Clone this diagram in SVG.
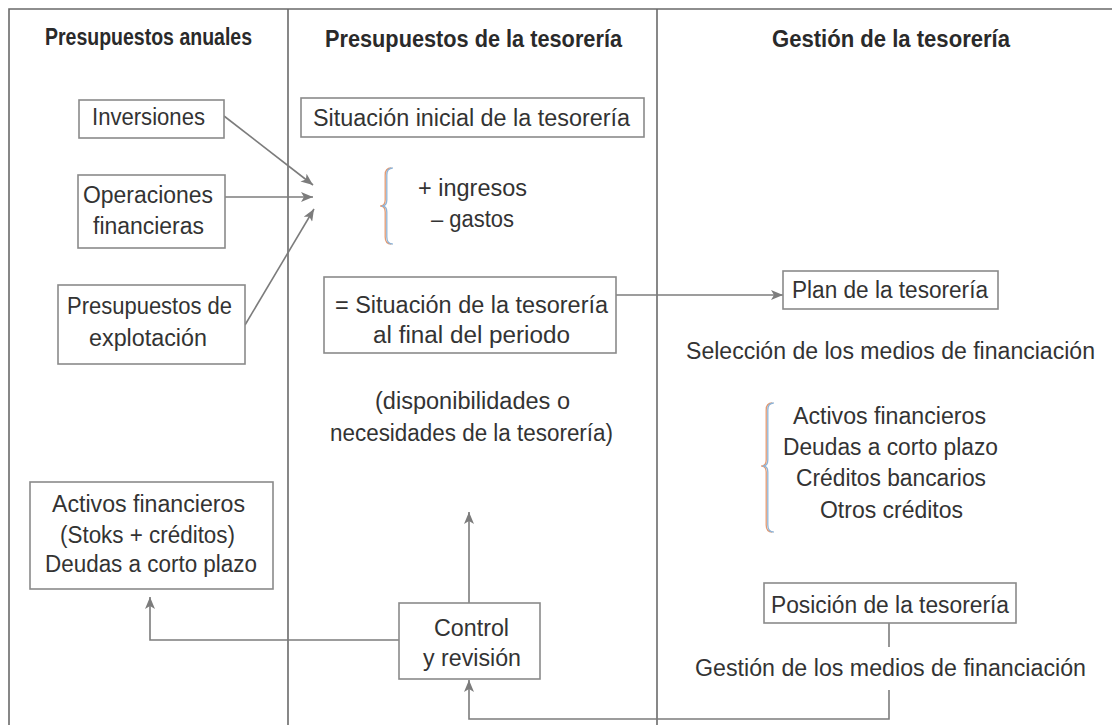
<svg xmlns="http://www.w3.org/2000/svg" width="1112" height="725" viewBox="0 0 1112 725">
<defs>
<style>
.frame{stroke:#6a6a6a;stroke-width:1.6;fill:none}
.box{fill:#fff;stroke:#8a8a8a;stroke-width:1.6}
.t{font-family:"Liberation Sans",Arial,sans-serif;font-size:23px;fill:#333}
.h{font-family:"Liberation Sans",Arial,sans-serif;font-size:23px;font-weight:bold;fill:#2a2a2a}
.c{stroke:#7c7c7c;stroke-width:1.6;fill:none}
.br{fill:none;stroke-width:1.3}
</style>
<marker id="ah" viewBox="0 0 12 10" refX="12" refY="5" markerWidth="13" markerHeight="10" markerUnits="userSpaceOnUse" orient="auto">
<path d="M0,0 L12,5 L0,10 L3,5 Z" fill="#7c7c7c"/>
</marker>
</defs>
<rect width="1112" height="725" fill="#fff"/>
<g id="frame">
<path class="frame" d="M9,725 L9,9 L1112,9"/>
<line class="frame" x1="288" y1="9" x2="288" y2="725"/>
<line class="frame" x1="657" y1="9" x2="657" y2="725"/>
</g>
<g id="headers">
<text class="h" x="45" y="45" textLength="207" lengthAdjust="spacingAndGlyphs">Presupuestos anuales</text>
<text class="h" x="325" y="47" textLength="297" lengthAdjust="spacingAndGlyphs">Presupuestos de la tesorería</text>
<text class="h" x="772" y="47" textLength="238" lengthAdjust="spacingAndGlyphs">Gestión de la tesorería</text>
</g>
<g id="connectors">
<line class="c" x1="224" y1="116" x2="313" y2="185" marker-end="url(#ah)"/>
<line class="c" x1="225" y1="197" x2="313" y2="197" marker-end="url(#ah)"/>
<line class="c" x1="245" y1="325" x2="314" y2="209" marker-end="url(#ah)"/>
<line class="c" x1="616" y1="295" x2="783" y2="295" marker-end="url(#ah)"/>
<line class="c" x1="469" y1="603" x2="469" y2="512" marker-end="url(#ah)"/>
<polyline class="c" points="399,640 150,640 150,597" marker-end="url(#ah)"/>
<line class="c" x1="889" y1="623" x2="889" y2="647"/>
<polyline class="c" points="889,690 889,719 469,719 469,680" marker-end="url(#ah)"/>
</g>
<g id="n-inversiones">
<rect class="box" x="79" y="100" width="145" height="38"/>
<text class="t" x="92" y="125" textLength="113" lengthAdjust="spacingAndGlyphs">Inversiones</text>
</g>
<g id="n-operaciones">
<rect class="box" x="78" y="175" width="147" height="73"/>
<text class="t" x="83" y="203" textLength="130" lengthAdjust="spacingAndGlyphs">Operaciones</text>
<text class="t" x="93" y="234" textLength="111" lengthAdjust="spacingAndGlyphs">financieras</text>
</g>
<g id="n-explotacion">
<rect class="box" x="58" y="285" width="187" height="79"/>
<text class="t" x="67" y="314" textLength="165" lengthAdjust="spacingAndGlyphs">Presupuestos de</text>
<text class="t" x="89" y="346" textLength="118" lengthAdjust="spacingAndGlyphs">explotación</text>
</g>
<g id="n-activos">
<rect class="box" x="30" y="482" width="243" height="107"/>
<text class="t" x="52" y="512" textLength="193" lengthAdjust="spacingAndGlyphs">Activos financieros</text>
<text class="t" x="60" y="543" textLength="175" lengthAdjust="spacingAndGlyphs">(Stoks + créditos)</text>
<text class="t" x="45" y="572" textLength="212" lengthAdjust="spacingAndGlyphs">Deudas a corto plazo</text>
</g>
<g id="n-inicial">
<rect class="box" x="301" y="98" width="343" height="39"/>
<text class="t" x="313" y="126" textLength="317" lengthAdjust="spacingAndGlyphs">Situación inicial de la tesorería</text>
</g>
<g id="n-ingresos">
<path class="br" stroke="#e39a72" d="M391.2,168 Q385.2,168 385.2,175 L385.2,200 Q385.2,206 380.2,206 Q385.2,206 385.2,212 L385.2,237 Q385.2,244 391.2,244"/>
<path class="br" stroke="#8fb3d6" d="M392.8,168 Q386.8,168 386.8,175 L386.8,200 Q386.8,206 381.8,206 Q386.8,206 386.8,212 L386.8,237 Q386.8,244 392.8,244"/>
<text class="t" x="418" y="196" textLength="109" lengthAdjust="spacingAndGlyphs">+ ingresos</text>
<text class="t" x="431" y="227" textLength="83" lengthAdjust="spacingAndGlyphs">– gastos</text>
</g>
<g id="n-final">
<rect class="box" x="324" y="277" width="292" height="76"/>
<text class="t" x="335" y="313" textLength="273" lengthAdjust="spacingAndGlyphs">= Situación de la tesorería</text>
<text class="t" x="373" y="343" textLength="197" lengthAdjust="spacingAndGlyphs">al final del periodo</text>
</g>
<g id="n-disponibilidades">
<text class="t" x="375" y="409" textLength="195" lengthAdjust="spacingAndGlyphs">(disponibilidades o</text>
<text class="t" x="330" y="441" textLength="283" lengthAdjust="spacingAndGlyphs">necesidades de la tesorería)</text>
</g>
<g id="n-control">
<rect class="box" x="399" y="603" width="141" height="76"/>
<text class="t" x="434" y="636" textLength="75" lengthAdjust="spacingAndGlyphs">Control</text>
<text class="t" x="423" y="666" textLength="98" lengthAdjust="spacingAndGlyphs">y revisión</text>
</g>
<g id="n-plan">
<rect class="box" x="783" y="271" width="215" height="38"/>
<text class="t" x="792" y="298" textLength="196" lengthAdjust="spacingAndGlyphs">Plan de la tesorería</text>
</g>
<g id="n-seleccion">
<text class="t" x="686" y="359" textLength="409" lengthAdjust="spacingAndGlyphs">Selección de los medios de financiación</text>
</g>
<g id="n-medios">
<path class="br" stroke="#e39a72" d="M772.2,403 Q766.2,403 766.2,410 L766.2,460 Q766.2,466 761.2,466 Q766.2,466 766.2,472 L766.2,525 Q766.2,532 772.2,532"/>
<path class="br" stroke="#8fb3d6" d="M773.8,403 Q767.8,403 767.8,410 L767.8,460 Q767.8,466 762.8,466 Q767.8,466 767.8,472 L767.8,525 Q767.8,532 773.8,532"/>
<text class="t" x="793" y="424" textLength="193" lengthAdjust="spacingAndGlyphs">Activos financieros</text>
<text class="t" x="783" y="455" textLength="215" lengthAdjust="spacingAndGlyphs">Deudas a corto plazo</text>
<text class="t" x="796" y="486" textLength="190" lengthAdjust="spacingAndGlyphs">Créditos bancarios</text>
<text class="t" x="820" y="518" textLength="143" lengthAdjust="spacingAndGlyphs">Otros créditos</text>
</g>
<g id="n-posicion">
<rect class="box" x="764" y="583" width="252" height="40"/>
<text class="t" x="771" y="613" textLength="238" lengthAdjust="spacingAndGlyphs">Posición de la tesorería</text>
</g>
<g id="n-gestion">
<text class="t" x="695" y="676" textLength="391" lengthAdjust="spacingAndGlyphs">Gestión de los medios de financiación</text>
</g>
</svg>
